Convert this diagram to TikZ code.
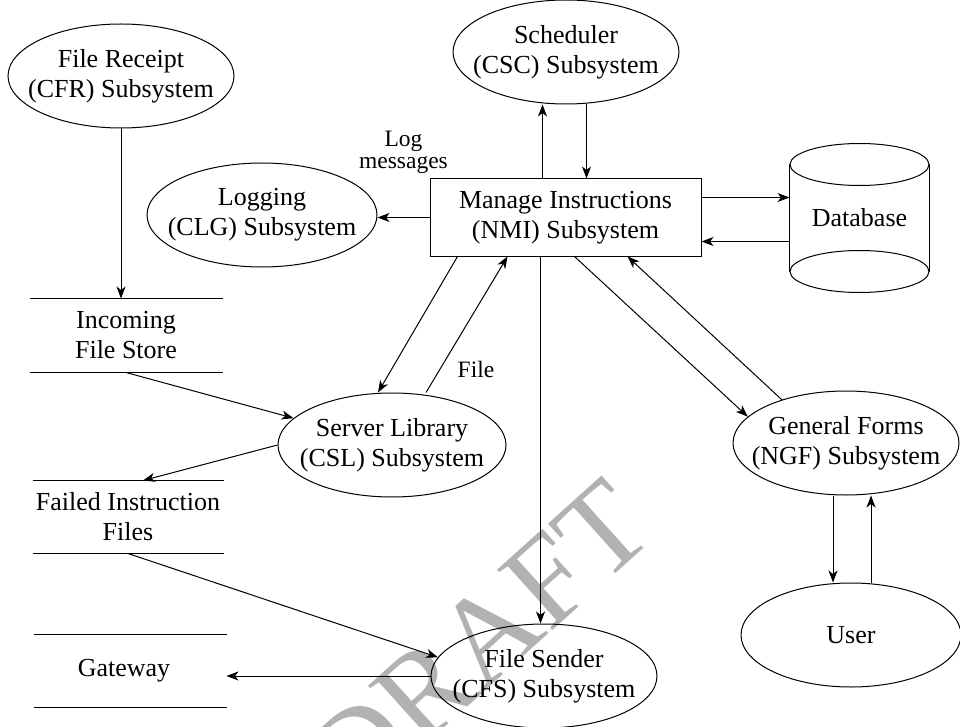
\documentclass[tikz,border=0pt]{standalone}
\usepackage{fontspec}
\setmainfont{Liberation Serif}
\usetikzlibrary{arrows.meta, shapes.geometric}

\begin{document}
\begin{tikzpicture}[
            x = 1pt, y = -1pt, % pixel grid, y downwards
            > = {Stealth[length=12pt, width=9pt, inset=3.5pt]}, % arrow head style
            line width = 1pt,
            every node/.style = {font=\fontsize{26}{30}\selectfont, align=center}
        ]

        \tikzstyle{subsystem}=[
            draw = black,
            ellipse,
            inner xsep = -20pt, % let the ellipse hug the text
            inner ysep = 0pt,
            minimum width = 226pt,
            minimum height = 104pt
        ]
        \tikzstyle{store}=[
            inner sep = 0pt,
            minimum width = 192pt,
            minimum height = 72pt
        ]
        \tikzstyle{flowlabel}=[font=\fontsize{23.5}{22}\selectfont]

        \useasboundingbox (0,0) rectangle (960,727);

        % watermark behind everything
        \node[text=black!30, rotate=42, font=\fontsize{125}{125}\selectfont] (draft) at (478,642) {DRAFT};

        \node[subsystem] (cfr) at (121,76) {File Receipt\\(CFR) Subsystem};
        \node[subsystem] (csc) at (566,52) {Scheduler\\(CSC) Subsystem};
        \node[subsystem, minimum width=230pt] (clg) at (262,215) {Logging\\(CLG) Subsystem};
        \node[draw, minimum width=271pt, minimum height=77pt, inner sep=0pt] (nmi) at (565.5,217.5) {Manage Instructions\\(NMI) Subsystem};
        \node[minimum width=139pt, minimum height=106pt, inner sep=0pt] (db) at (859.5,218) {Database};
        \node[subsystem, minimum width=228pt] (csl) at (392,445) {Server Library\\(CSL) Subsystem};
        \node[subsystem] (ngf) at (846,443) {General Forms\\(NGF) Subsystem};
        \node[subsystem, minimum width=220pt] (user) at (851,635) {User};
        \node[subsystem] (cfs) at (544,676) {File Sender\\(CFS) Subsystem};

        \node[store, minimum height=73pt] (ifs) at (126,335.5) {Incoming\\File Store};
        \node[store, minimum width=190pt] (ffs) at (128,517) {Failed Instruction\\Files};
        \node[store] (gw) at (130,671) {\hspace*{-12pt}Gateway};

        % database drum
        \draw (db.north west) -- (db.south west) (db.north east) -- (db.south east);
        \draw (db.north) ellipse [x radius=69.5pt, y radius=21pt];
        \draw (db.south) ellipse [x radius=69.5pt, y radius=21pt];

        % store lines
        \foreach \s in {ifs, ffs, gw} {
            \draw (\s.north west) -- (\s.north east);
            \draw (\s.south west) -- (\s.south east);
        }

        \draw[->] (cfr.south) -- (cfr.south |- ifs.north);
        \draw[->] (ifs.south) -- (csl);
        \draw[->] (csl.west) -- ([xshift=15pt]ffs.north);
        \draw[->] (ffs.south) -- (cfs.170);
        \draw[->] (cfs.west) -- (cfs.west -| gw.east);

        \draw[->] ([xshift=-23pt]nmi.north) -- ([xshift=-23pt]nmi.north |- csc.south);
        \draw[->] ([xshift=21pt]nmi.north |- csc.south) -- ([xshift=21pt]nmi.north);
        \draw[->] (nmi.west) -- node[flowlabel, above=40pt] {Log\\messages} (nmi.west -| clg.east);
        \draw[->] ([yshift=20pt]nmi.east) -- ([yshift=20pt]nmi.east -| db.west);
        \draw[->] ([yshift=-24pt]nmi.east -| db.west) -- ([yshift=-24pt]nmi.east);

        \draw[->] ([xshift=-108pt]nmi.south) -- ([xshift=-14pt]csl.north);
        \draw[->] ([xshift=34pt]csl.north) -- node[flowlabel, pos=0.17, right=14pt] {File} ([xshift=-58pt]nmi.south);
        \draw[->] ([xshift=-25pt]nmi.south) -- ([xshift=-25pt]nmi.south |- cfs.north);
        \draw[->] ([xshift=9pt]nmi.south) -- (ngf.165);
        \draw[->] (ngf.146) -- ([xshift=62pt]nmi.south);

        \draw[->] ([xshift=-13pt]ngf.south) -- ([xshift=-13pt]ngf.south |- user.north);
        \draw[->] ([xshift=25pt]ngf.south |- user.north) -- ([xshift=25pt]ngf.south);

  \end{tikzpicture}
\end{document}
